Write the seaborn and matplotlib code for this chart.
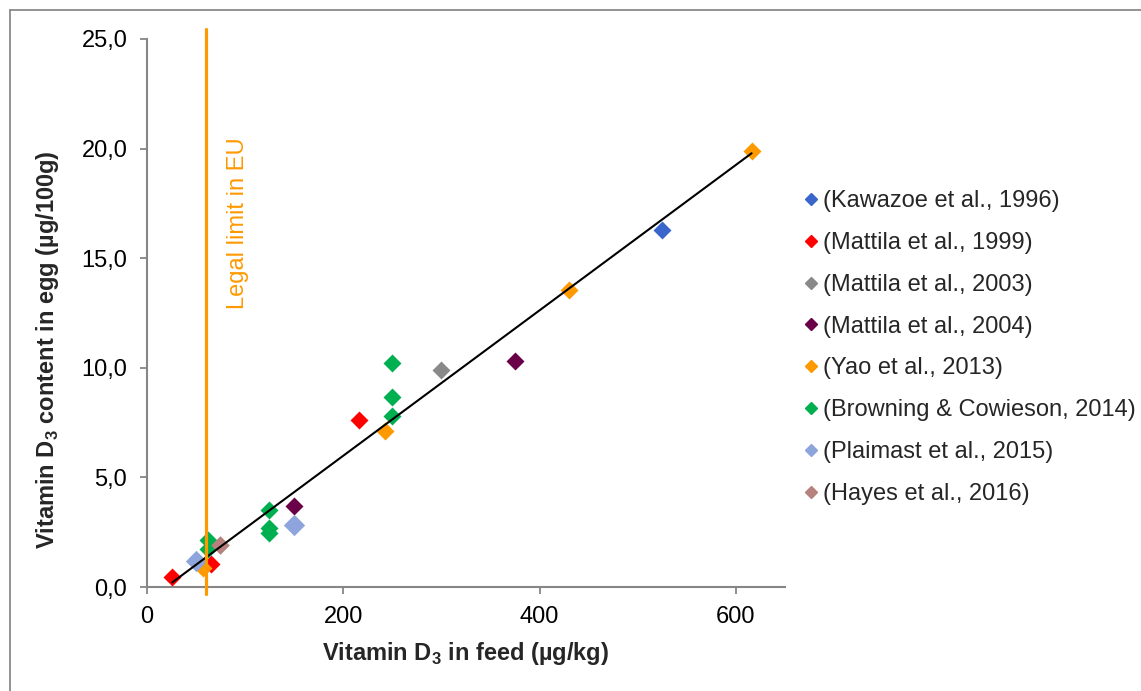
import numpy as np
import pandas as pd
import matplotlib
matplotlib.use("Agg")
import matplotlib.pyplot as plt
import seaborn as sns
from matplotlib.lines import Line2D

# Vitamin D3 in feed (µg/kg) vs. vitamin D3 content in egg (µg/100 g), per study
studies = [
    "(Kawazoe et al., 1996)",
    "(Mattila et al., 1999)",
    "(Mattila et al., 2003)",
    "(Mattila et al., 2004)",
    "(Yao et al., 2013)",
    "(Browning & Cowieson, 2014)",
    "(Plaimast et al., 2015)",
    "(Hayes et al., 2016)",
]
kawazoe_feed = [525]
kawazoe_egg = [16.3]
mattila1999_feed = [26, 65, 216]
mattila1999_egg = [0.47, 1.05, 7.6]
mattila2003_feed = [300]
mattila2003_egg = [9.9]
mattila2004_feed = [150, 375]
mattila2004_egg = [3.7, 10.3]
yao_feed = [57, 243, 430, 616]
yao_egg = [0.85, 7.1, 13.55, 19.9]
browning_feed = [62.5, 62.5, 125, 125, 125, 250, 250, 250]
browning_egg = [2.15, 1.75, 3.5, 2.7, 2.47, 10.2, 8.65, 7.8]
plaimast_feed = [50, 150]
plaimast_egg = [1.2, 2.85]
hayes_feed = [75]
hayes_egg = [1.9]

eu_limit = 60  # µg/kg

feeds = [kawazoe_feed, mattila1999_feed, mattila2003_feed, mattila2004_feed,
         yao_feed, browning_feed, plaimast_feed, hayes_feed]
eggs = [kawazoe_egg, mattila1999_egg, mattila2003_egg, mattila2004_egg,
        yao_egg, browning_egg, plaimast_egg, hayes_egg]

df = pd.concat(
    [pd.DataFrame({"study": s, "feed": f, "egg": e}) for s, f, e in zip(studies, feeds, eggs)],
    ignore_index=True,
)

palette = ["#3A66CC", "#FF0000", "#898989", "#6A0047", "#FF9900",
           "#00B050", "#8EA4DC", "#B7827E"]
marker_sizes = [84, 84, 84, 84, 84, 84, 118, 90]

sns.set_theme(style="white")
plt.rcParams["font.family"] = ["Liberation Sans", "DejaVu Sans"]
plt.rcParams["mathtext.fontset"] = "custom"
plt.rcParams["mathtext.rm"] = "Liberation Sans"
plt.rcParams["mathtext.bf"] = "Liberation Sans:bold"

FS = 17

fig = plt.figure(figsize=(11.41, 6.91), dpi=100)
ax = fig.add_axes([0.1286, 0.1505, 0.5594, 0.7931])

for study, color, size in zip(studies, palette, marker_sizes):
    sub = df[df["study"] == study]
    sns.scatterplot(data=sub, x="feed", y="egg", color=color, marker="D",
                    s=size, linewidth=0, ax=ax, legend=False, zorder=3)

# Linear trend over all studies
sns.regplot(data=df, x="feed", y="egg", scatter=False, ci=None, truncate=True,
            color="black", line_kws={"lw": 1.5, "zorder": 4}, ax=ax)

# EU legal limit
ax.plot([eu_limit, eu_limit], [-0.32, 25.45], color="#FF9900", lw=2.3,
        clip_on=False, zorder=5)
ax.text(93, 16.6, "Legal limit in EU", rotation=90, color="#FF9900",
        fontsize=FS, ha="center", va="center")

ax.set_xlim(0, 650)
ax.set_ylim(0, 25)
ax.set_xticks([0, 200, 400, 600])
ax.set_yticks([0, 5, 10, 15, 20, 25])
ax.set_yticklabels([f"{v:.1f}".replace(".", ",") for v in [0, 5, 10, 15, 20, 25]])

for side in ["top", "right"]:
    ax.spines[side].set_visible(False)
for side in ["left", "bottom"]:
    ax.spines[side].set_color("#868686")
    ax.spines[side].set_linewidth(1.5)
ax.tick_params(axis="both", direction="out", length=5, width=1.3, color="#868686",
               labelsize=FS, pad=9, labelcolor="black")
ax.tick_params(axis="x", bottom=True)
ax.tick_params(axis="y", left=True)

ax.set_xlabel(r"Vitamin D$_\mathbf{3}$ in feed (µg/kg)", fontsize=FS,
              fontweight="bold", labelpad=8)
ax.set_ylabel(r"Vitamin D$_\mathbf{3}$ content in egg (µg/100g)", fontsize=FS,
              fontweight="bold")
ax.yaxis.set_label_coords(-0.135, 0.434)

handles = [Line2D([], [], marker="D", linestyle="", color=c, markersize=6.5)
           for c in palette]
fig.legend(handles, studies, loc="center left", bbox_to_anchor=(0.7035, 0.497),
           frameon=False, fontsize=FS, handlelength=0.7, handletextpad=0.15,
           labelspacing=0.84, borderpad=0, borderaxespad=0)

# Chart frame
fig.add_artist(Line2D([10 / 1141, 10 / 1141], [0, 681 / 691], transform=fig.transFigure,
                      color="#8A8A8A", lw=1.3))
fig.add_artist(Line2D([10 / 1141, 1], [681 / 691, 681 / 691], transform=fig.transFigure,
                      color="#8A8A8A", lw=1.3))

fig.savefig("out.png", dpi=100)
